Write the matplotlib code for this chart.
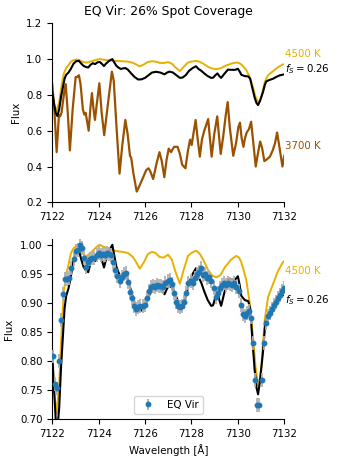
import numpy as np
import matplotlib
matplotlib.use("Agg")
import matplotlib.pyplot as plt

plt.rcParams['font.size'] = 7.4

# === Model spectra ===
wl_hot = [7122.00, 7122.10, 7122.19, 7122.30, 7122.40, 7122.50, 7122.60, 7122.68, 7122.80, 7122.90,
          7123.03, 7123.15, 7123.30, 7123.47, 7123.70, 7123.90, 7124.04, 7124.20, 7124.50, 7124.80,
          7125.00, 7125.26, 7125.48, 7125.62, 7125.77, 7125.95, 7126.12, 7126.30, 7126.45, 7126.63,
          7126.80, 7126.99, 7127.15, 7127.30, 7127.50, 7127.65, 7127.85, 7128.00, 7128.20, 7128.35,
          7128.50, 7128.71, 7128.90, 7129.07, 7129.25, 7129.45, 7129.72, 7129.93, 7130.05, 7130.15,
          7130.36, 7130.51, 7130.65, 7130.76, 7130.87, 7130.95, 7131.01, 7131.10, 7131.16, 7131.30,
          7131.51, 7131.73, 7131.94, 7132.00]
flux_hot = [0.80, 0.74, 0.71, 0.76, 0.85, 0.92, 0.95, 0.962, 0.985, 0.993,
            0.998, 0.995, 0.985, 0.980, 0.988, 0.996, 1.000, 0.997, 0.992, 0.989,
            0.988, 0.986, 0.979, 0.970, 0.959, 0.970, 0.984, 0.988, 0.986, 0.979,
            0.978, 0.983, 0.975, 0.955, 0.933, 0.955, 0.981, 0.986, 0.990, 0.985,
            0.975, 0.957, 0.947, 0.944, 0.948, 0.962, 0.975, 0.981, 0.978, 0.970,
            0.940, 0.900, 0.843, 0.790, 0.758, 0.770, 0.790, 0.840, 0.872, 0.910,
            0.932, 0.955, 0.970, 0.972]

wl_cool = [7122.00, 7122.10, 7122.19, 7122.29, 7122.34, 7122.40, 7122.50, 7122.58, 7122.67, 7122.76,
           7122.88, 7123.01, 7123.08, 7123.15, 7123.22, 7123.32, 7123.38, 7123.44, 7123.57, 7123.64,
           7123.71, 7123.78, 7123.84, 7123.93, 7124.03, 7124.13, 7124.24, 7124.40, 7124.57, 7124.65,
           7124.78, 7124.90, 7125.02, 7125.15, 7125.25, 7125.35, 7125.40, 7125.50, 7125.64, 7125.75,
           7125.92, 7126.05, 7126.15, 7126.22, 7126.35, 7126.50, 7126.62, 7126.72, 7126.83, 7126.93,
           7127.02, 7127.12, 7127.25, 7127.40, 7127.50, 7127.60, 7127.74, 7127.85, 7127.94, 7128.01,
           7128.08, 7128.18, 7128.27, 7128.36, 7128.45, 7128.55, 7128.63, 7128.72, 7128.80, 7128.87,
           7128.98, 7129.11, 7129.18, 7129.26, 7129.37, 7129.47, 7129.56, 7129.65, 7129.80, 7129.92,
           7130.02, 7130.09, 7130.16, 7130.24, 7130.31, 7130.38, 7130.48, 7130.57, 7130.65, 7130.77,
           7130.86, 7130.96, 7131.05, 7131.14, 7131.25, 7131.38, 7131.50, 7131.60, 7131.69, 7131.80,
           7131.92, 7132.00]
flux_cool = [0.86, 0.70, 0.48, 0.69, 0.68, 0.70, 0.80, 0.86, 0.70, 0.49,
             0.72, 0.90, 0.90, 0.91, 0.86, 0.72, 0.69, 0.70, 0.60, 0.72,
             0.81, 0.72, 0.66, 0.76, 0.865, 0.70, 0.575, 0.75, 0.93, 0.88,
             0.60, 0.36, 0.52, 0.66, 0.58, 0.46, 0.45, 0.36, 0.26, 0.29,
             0.34, 0.38, 0.39, 0.375, 0.33, 0.42, 0.48, 0.43, 0.34, 0.44,
             0.50, 0.48, 0.51, 0.51, 0.47, 0.41, 0.39, 0.49, 0.55, 0.52,
             0.58, 0.66, 0.55, 0.455, 0.55, 0.60, 0.63, 0.665, 0.55, 0.455,
             0.58, 0.68, 0.58, 0.47, 0.57, 0.68, 0.76, 0.62, 0.46, 0.53,
             0.62, 0.645, 0.56, 0.51, 0.56, 0.59, 0.61, 0.65, 0.55, 0.40,
             0.47, 0.54, 0.50, 0.43, 0.44, 0.455, 0.49, 0.53, 0.59, 0.50,
             0.40, 0.46]

wl_mix = [7122.00, 7122.08, 7122.15, 7122.22, 7122.30, 7122.38, 7122.46, 7122.53, 7122.60, 7122.70,
          7122.80, 7122.92, 7123.03, 7123.15, 7123.25, 7123.35, 7123.45, 7123.55, 7123.65, 7123.75,
          7123.85, 7123.95, 7124.05, 7124.15, 7124.23, 7124.32, 7124.45, 7124.59, 7124.68, 7124.76,
          7124.86, 7124.96, 7125.05, 7125.15, 7125.26, 7125.40, 7125.55, 7125.70, 7125.85, 7126.00,
          7126.15, 7126.30, 7126.48, 7126.65, 7126.84, 7126.95, 7127.05, 7127.20, 7127.35, 7127.50,
          7127.62, 7127.75, 7127.90, 7128.05, 7128.20, 7128.30, 7128.42, 7128.55, 7128.70, 7128.85,
          7128.93, 7129.03, 7129.12, 7129.20, 7129.28, 7129.40, 7129.57, 7129.75, 7129.88, 7130.00,
          7130.08, 7130.15, 7130.30, 7130.45, 7130.53, 7130.62, 7130.72, 7130.80, 7130.87, 7130.95,
          7131.08, 7131.16, 7131.22, 7131.35, 7131.51, 7131.65, 7131.80, 7132.00]
flux_mix = [0.815, 0.75, 0.70, 0.682, 0.72, 0.79, 0.843, 0.89, 0.912, 0.925,
            0.945, 0.975, 0.988, 0.990, 0.975, 0.962, 0.956, 0.953, 0.968, 0.977,
            0.972, 0.982, 0.984, 0.972, 0.961, 0.975, 0.990, 1.000, 0.980, 0.963,
            0.952, 0.945, 0.948, 0.950, 0.941, 0.920, 0.900, 0.886, 0.887, 0.895,
            0.910, 0.925, 0.929, 0.925, 0.915, 0.925, 0.930, 0.925, 0.910, 0.895,
            0.897, 0.910, 0.935, 0.950, 0.960, 0.945, 0.935, 0.920, 0.905, 0.895,
            0.896, 0.910, 0.920, 0.905, 0.895, 0.915, 0.941, 0.940, 0.940, 0.946,
            0.930, 0.912, 0.905, 0.903, 0.890, 0.840, 0.786, 0.755, 0.743, 0.765,
            0.815, 0.855, 0.875, 0.883, 0.890, 0.900, 0.909, 0.915]

# === Observed spectrum of EQ Vir ===
wl_obs = [7122.02, 7122.10, 7122.19, 7122.29, 7122.38, 7122.47, 7122.56, 7122.65, 7122.74, 7122.83,
          7122.92, 7123.01, 7123.10, 7123.19, 7123.28, 7123.37, 7123.46, 7123.55, 7123.64, 7123.73,
          7123.82, 7123.91, 7124.00, 7124.09, 7124.18, 7124.27, 7124.36, 7124.45, 7124.54, 7124.63,
          7124.72, 7124.81, 7124.90, 7124.99, 7125.08, 7125.17, 7125.26, 7125.35, 7125.44, 7125.53,
          7125.62, 7125.71, 7125.80, 7125.89, 7125.98, 7126.07, 7126.16, 7126.25, 7126.34, 7126.43,
          7126.52, 7126.61, 7126.70, 7126.79, 7126.88, 7126.97, 7127.06, 7127.15, 7127.24, 7127.33,
          7127.42, 7127.51, 7127.60, 7127.69, 7127.78, 7127.87, 7127.96, 7128.05, 7128.14, 7128.23,
          7128.32, 7128.41, 7128.50, 7128.59, 7128.68, 7128.77, 7128.86, 7128.95, 7129.04, 7129.13,
          7129.22, 7129.31, 7129.40, 7129.49, 7129.58, 7129.67, 7129.76, 7129.85, 7129.94, 7130.03,
          7130.12, 7130.21, 7130.30, 7130.39, 7130.48, 7130.57, 7130.65, 7130.74, 7130.84, 7130.93,
          7131.03, 7131.12, 7131.21, 7131.30, 7131.39, 7131.47, 7131.56, 7131.65, 7131.74, 7131.83,
          7131.92, 7132.00]
flux_obs = [0.808, 0.761, 0.753, 0.800, 0.871, 0.916, 0.941, 0.942, 0.943, 0.960,
            0.976, 0.989, 0.991, 1.000, 0.994, 0.978, 0.962, 0.970, 0.976, 0.977,
            0.978, 0.983, 0.986, 0.982, 0.985, 0.982, 0.986, 0.984, 0.983, 0.970,
            0.957, 0.946, 0.937, 0.944, 0.949, 0.951, 0.936, 0.919, 0.908, 0.895,
            0.889, 0.893, 0.894, 0.895, 0.897, 0.908, 0.920, 0.927, 0.929, 0.928,
            0.931, 0.929, 0.930, 0.928, 0.934, 0.937, 0.940, 0.932, 0.917, 0.902,
            0.894, 0.893, 0.895, 0.902, 0.917, 0.934, 0.937, 0.935, 0.943, 0.950,
            0.954, 0.960, 0.948, 0.950, 0.943, 0.944, 0.938, 0.926, 0.911, 0.918,
            0.925, 0.931, 0.935, 0.931, 0.934, 0.933, 0.931, 0.934, 0.928, 0.920,
            0.897, 0.881, 0.878, 0.882, 0.887, 0.875, 0.832, 0.768, 0.724, 0.724,
            0.768, 0.831, 0.866, 0.877, 0.883, 0.889, 0.896, 0.902, 0.908, 0.914,
            0.920, 0.925]
err_obs = 0.012

gold = '#E8B000'
brown = '#9A5200'

fig = plt.figure(figsize=(3.37, 4.62), dpi=100)
ax1 = fig.add_axes([0.155, 0.5621, 0.6886, 0.3875])
ax2 = fig.add_axes([0.155, 0.0924, 0.6886, 0.3903])

# --- top: model components ---
ax1.plot(wl_hot, flux_hot, color=gold, lw=1.4)
ax1.plot(wl_cool, flux_cool, color=brown, lw=1.6)
ax1.plot(wl_mix, flux_mix, color='black', lw=1.5)
ax1.text(7132.05, 1.03, '4500 K', color=gold, va='center', ha='left')
ax1.text(7132.05, 0.945, r'$f_S = 0.26$', color='black', va='center', ha='left')
ax1.text(7132.05, 0.515, '3700 K', color=brown, va='center', ha='left')
ax1.set_xlim(7122, 7132)
ax1.set_ylim(0.2, 1.2)
ax1.set_yticks(np.arange(0.2, 1.21, 0.2))
ax1.set_xticks(np.arange(7122, 7133, 2))
ax1.set_ylabel('Flux')
ax1.set_title('EQ Vir: 26% Spot Coverage')

# --- bottom: comparison with data ---
ax2.plot(wl_hot, flux_hot, color=gold, lw=1.4)
ax2.plot(wl_mix, flux_mix, color='black', lw=1.5)
ax2.errorbar(wl_obs, flux_obs, yerr=err_obs, fmt='o', ms=3.2, color='#1f77b4',
             ecolor='#b0b0b0', elinewidth=1.3, label='EQ Vir', zorder=3)
ax2.text(7132.05, 0.955, '4500 K', color=gold, va='center', ha='left')
ax2.text(7132.05, 0.905, r'$f_S = 0.26$', color='black', va='center', ha='left')
ax2.set_xlim(7122, 7132)
ax2.set_ylim(0.70, 1.01)
ax2.set_yticks(np.arange(0.70, 1.001, 0.05))
ax2.set_xticks(np.arange(7122, 7133, 2))
ax2.set_ylabel('Flux')
ax2.set_xlabel('Wavelength [Å]')
ax2.legend(loc='lower center')

for ax in (ax1, ax2):
    ax.spines['top'].set_visible(False)
    ax.spines['right'].set_visible(False)

fig.savefig('out.png', dpi=100)
